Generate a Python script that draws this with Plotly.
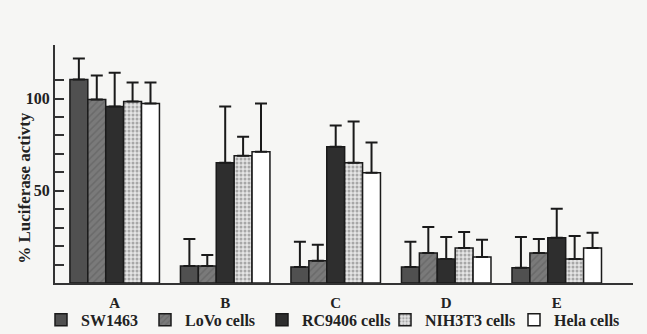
import plotly.graph_objects as go

categories = ["A", "B", "C", "D", "E"]
series_names = ["SW1463", "LoVo cells", "RC9406 cells", "NIH3T3 cells", "Hela cells"]

sw1463 = [110.3, 9.2, 8.7, 8.7, 8.2]
sw1463_err = [11.4, 14.7, 13.6, 13.6, 16.8]
lovo = [99.5, 9.2, 12.0, 16.3, 16.3]
lovo_err = [13.0, 6.0, 8.7, 14.1, 7.6]
rc9406 = [95.7, 65.2, 73.9, 13.0, 24.5]
rc9406_err = [18.3, 30.5, 11.4, 12.0, 15.7]
nih3t3 = [98.4, 69.0, 65.2, 19.0, 13.0]
nih3t3_err = [10.3, 10.3, 22.3, 8.7, 12.5]
hela = [97.3, 71.2, 59.8, 14.1, 19.0]
hela_err = [11.4, 26.1, 16.3, 9.3, 8.2]

values = [sw1463, lovo, rc9406, nih3t3, hela]
errors = [sw1463_err, lovo_err, rc9406_err, nih3t3_err, hela_err]

styles = [
    dict(color="#505050", pattern=dict(shape="")),
    dict(color="#7a7a7a", pattern=dict(shape="/", fgcolor="#5a5a5a", size=5, solidity=0.3)),
    dict(color="#2e2e2e", pattern=dict(shape="")),
    dict(color="#dcdcdc", pattern=dict(shape=".", fgcolor="#6a6a6a", bgcolor="#e4e4e4", size=4, solidity=0.45)),
    dict(color="#ffffff", pattern=dict(shape="")),
]

serif = "Liberation Serif"
legend_ids = ["legend", "legend2", "legend3", "legend4", "legend5"]
# legend left edges in pixels (plot area starts at 55 px, width 578 px)
legend_left_px = [41, 145, 262, 385, 514]
legend_x = [(p - 55) / 578 for p in legend_left_px]

fig = go.Figure()
for name, vals, errs, st, lid in zip(series_names, values, errors, styles, legend_ids):
    fig.add_trace(go.Bar(
        x=categories, y=vals, name=name, legend=lid,
        marker=dict(color=st["color"], pattern=st["pattern"],
                    line=dict(color="#1a1a1a", width=1.5)),
        error_y=dict(type="data", symmetric=False, array=errs,
                     arrayminus=[0] * len(errs), color="#1a1a1a",
                     thickness=2, width=6),
    ))

legend_common = dict(orientation="h", xanchor="left", y=-0.155, yanchor="middle",
                     font=dict(family=serif, size=16, color="#222", weight="bold"),
                     bgcolor="rgba(0,0,0,0)")
legend_layout = {lid: dict(x=lx, **legend_common) for lid, lx in zip(legend_ids, legend_x)}

fig.update_layout(
    width=647, height=334,
    margin=dict(l=55, r=14, t=45, b=51, autoexpand=False),
    paper_bgcolor="#f6f6f4", plot_bgcolor="#f6f6f4",
    barmode="group", bargap=0.19, bargroupgap=0,
    font=dict(family=serif, color="#222", size=12),
    showlegend=True,
    xaxis=dict(range=[-0.54, 4.69], showline=True, linecolor="#333", linewidth=2,
               ticks="", showgrid=False, zeroline=False, ticklabelstandoff=5,
               tickfont=dict(family=serif, size=15, weight="bold", color="#222")),
    yaxis=dict(range=[0, 129], showline=True, linecolor="#333", linewidth=2,
               tickvals=[10, 20, 30, 40, 50, 60, 70, 80, 90, 100, 110],
               ticktext=["", "", "", "", "50", "", "", "", "", "100", ""],
               ticks="inside", ticklen=9, tickwidth=1.5, tickcolor="#333",
               showgrid=False, zeroline=False,
               tickfont=dict(family=serif, size=16, weight="bold", color="#222")),
    annotations=[dict(text="% Luciferase activty", textangle=-90, xref="paper", yref="paper",
                      x=-0.052, y=0.40, xanchor="center", yanchor="middle", showarrow=False,
                      font=dict(family=serif, size=17, weight="bold", color="#222"))],
    **legend_layout,
)

fig.write_html("out.html", config={"displayModeBar": False},
               post_script="document.body.style.margin='0';document.body.style.overflow='hidden';")
